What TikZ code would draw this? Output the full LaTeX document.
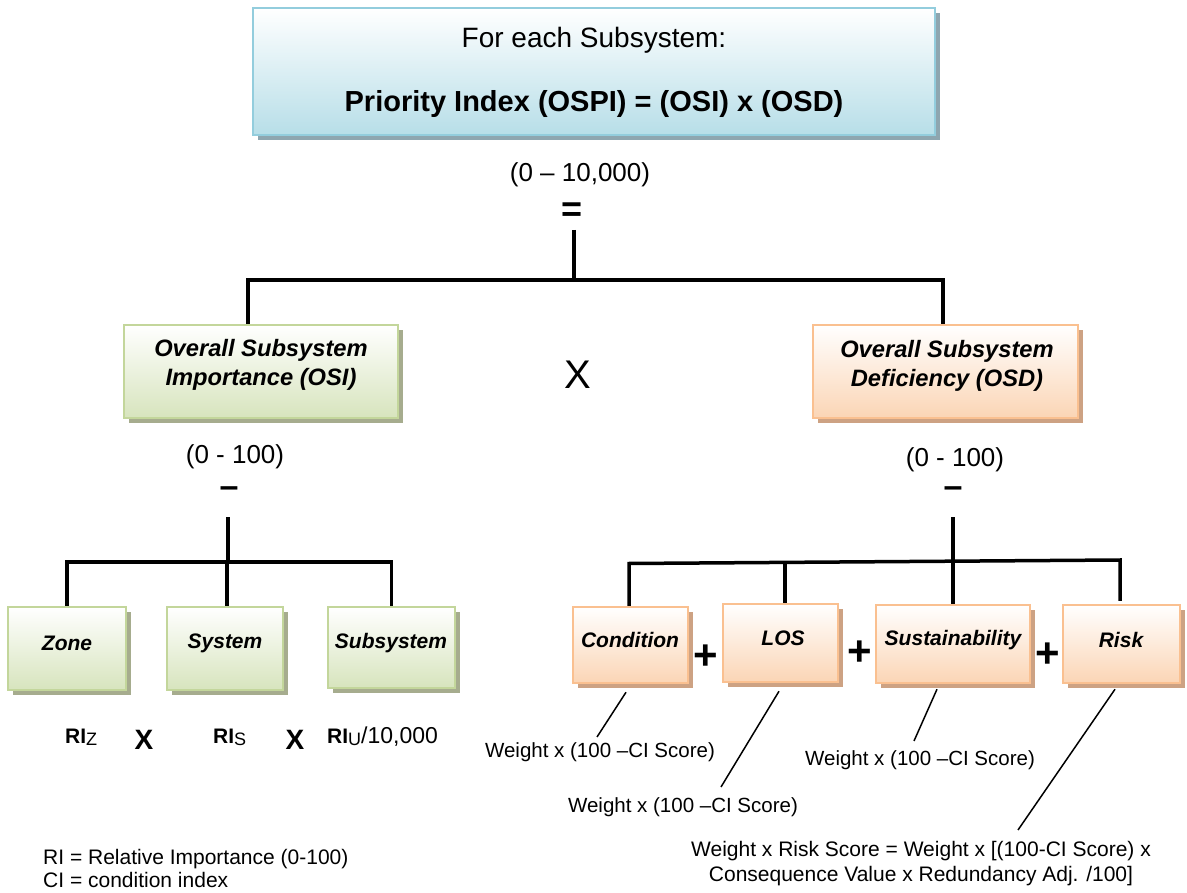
\documentclass[tikz,border=0pt]{standalone}
\usepackage{fontspec}
\setmainfont{Liberation Sans}
\usetikzlibrary{shadows}

\definecolor{blueline}{HTML}{93CDDD}
\definecolor{bluefill}{HTML}{B7DEE8}
\definecolor{blueshadow}{HTML}{8EA6B0}
\definecolor{greenline}{HTML}{C3D69B}
\definecolor{greenfill}{HTML}{D7E4BD}
\definecolor{greenshadow}{HTML}{A6AC8E}
\definecolor{orangeline}{HTML}{FAC090}
\definecolor{orangefill}{HTML}{FBD5B5}
\definecolor{orangeshadow}{HTML}{CDA283}

\newcommand{\fs}[1]{\fontsize{#1}{#1}\selectfont}

\begin{document}
\begin{tikzpicture}[x=1pt,y=-1pt,
  box/.style={rectangle, line width=2.5pt, inner sep=0pt, top color=white},
  bluebox/.style={box, draw=blueline, bottom color=bluefill,
    drop shadow={shadow xshift=5pt, shadow yshift=-5pt, fill=blueshadow, opacity=1}},
  greenbox/.style={box, draw=greenline, bottom color=greenfill,
    drop shadow={shadow xshift=5pt, shadow yshift=-5pt, fill=greenshadow, opacity=1}},
  orangebox/.style={box, draw=orangeline, bottom color=orangefill,
    drop shadow={shadow xshift=5pt, shadow yshift=-5pt, fill=orangeshadow, opacity=1}},
  bigtitle/.style={font=\fontsize{23.7}{29}\selectfont\bfseries\itshape, align=center, inner sep=0pt},
  boxtitle/.style={font=\fs{21}\bfseries\itshape, inner sep=0pt},
  rangelabel/.style={font=\fs{26}, inner sep=0pt},
  dashsign/.style={font=\fontsize{34}{34}\selectfont\bfseries, inner sep=0pt,
    text height=8pt, text depth=0pt},
  plussign/.style={font=\fontsize{42}{42}\selectfont\bfseries, inner sep=0pt},
  weight/.style={font=\fs{20.5}, inner sep=0pt},
  conn/.style={line width=3.5pt},
  lead/.style={line width=1.5pt},
]
\useasboundingbox (0,0) rectangle (1187,893);

% ---- top formula box ----
\node[bluebox, minimum width=682pt, minimum height=127pt] (top) at (594,71.5) {};
\node[font=\fs{28}, inner sep=0pt] (top1) at (594,40) {For each Subsystem:};
\node[font=\fs{29}\bfseries, inner sep=0pt] (top2) at (594,104) {Priority Index (OSPI) = (OSI) x (OSD)};

\node[rangelabel] (range0) at (580,175) {(0 -- 10,000)};
\node[font=\fontsize{36}{36}\selectfont\bfseries, inner sep=0pt] (eq) at (572,212) {=};

% ---- second level ----
\node[greenbox, minimum width=274pt, minimum height=93pt] (osi) at (261,371.5) {};
\node[bigtitle] (osi-t) at (261,365) {Overall Subsystem\\Importance (OSI)};
\node[orangebox, minimum width=265pt, minimum height=93pt] (osd) at (945.5,371.5) {};
\node[bigtitle] (osd-t) at (947,366) {Overall Subsystem\\Deficiency (OSD)};
\node[font=\fs{40}, inner sep=0pt] (times) at (578,375) {X};

\coordinate (j0) at (574,230);
\coordinate (j1) at (574,280);
\draw[conn] (j0) -- (j1);
\draw[conn] ([xshift=-13pt]osi.north) |- (j1) -| ([xshift=-2.5pt]osd.north);

% ---- importance branch ----
\node[rangelabel] (rangeL) at (235,457) {(0 - 100)};
\node[dashsign] (dashL) at (229,493) {--};

\node[greenbox, minimum width=118pt, minimum height=83pt] (zone) at (67,648.5) {};
\node[greenbox, minimum width=116pt, minimum height=83pt] (sys) at (225,648.5) {};
\node[greenbox, minimum width=127pt, minimum height=81pt] (subs) at (391.5,647.5) {};
\node[boxtitle] (zone-t) at (67,643) {Zone};
\node[boxtitle] (sys-t) at (225,643) {System};
\node[boxtitle] (subs-t) at (391,643) {Subsystem};

\coordinate (l0) at (228,517);
\coordinate (l1) at (228,562);
\draw[conn] (l0) -- (l1);
\draw[conn] (zone.north) |- (l1) -| (subs.north);
\draw[conn] ([xshift=2pt]sys.north) -- ([xshift=2pt]sys.north |- l1);

\node[anchor=base west, inner sep=0pt] (riz) at (65,743)
  {\fs{21}\bfseries RI\raisebox{-2pt}{\fs{18}\mdseries Z}};
\node[font=\fs{28}\bfseries, inner sep=0pt] (x1) at (144,740) {X};
\node[anchor=base west, inner sep=0pt] (ris) at (213,743)
  {\fs{21}\bfseries RI\raisebox{-2pt}{\fs{18}\mdseries S}};
\node[font=\fs{28}\bfseries, inner sep=0pt] (x2) at (295,740) {X};
\node[anchor=base west, inner sep=0pt] (riu) at (327,743)
  {\fs{21}\bfseries RI\raisebox{-2pt}{\fs{18}\mdseries U}\fs{23}\mdseries/10,000};

% ---- deficiency branch ----
\node[rangelabel] (rangeR) at (955,460) {(0 - 100)};
\node[dashsign] (dashR) at (953,493) {--};

\node[orangebox, minimum width=115pt, minimum height=76pt] (cond) at (630.5,645) {};
\node[orangebox, minimum width=115pt, minimum height=78pt] (los) at (780.5,643) {};
\node[orangebox, minimum width=154pt, minimum height=78pt] (sust) at (953,644) {};
\node[orangebox, minimum width=117pt, minimum height=78pt] (risk) at (1121.5,644) {};
\node[boxtitle] (cond-t) at (630,640) {Condition};
\node[boxtitle] (los-t) at (783,638) {LOS};
\node[boxtitle] (sust-t) at (953,640) {Sustainability};
\node[boxtitle] (risk-t) at (1121,640) {Risk};

\node[plussign] (p1) at (706,657) {+};
\node[plussign] (p2) at (860,653) {+};
\node[plussign] (p3) at (1048,655) {+};

% the bar joining the four deficiency terms runs very slightly uphill
\coordinate (r0) at (953,517);
\coordinate (r1) at (953,561.5);
\coordinate (rl) at (629,563.5);
\coordinate (rr) at (1120,560);
\draw[conn] (r0) -- (r1);
\draw[conn] ([xshift=-1.5pt]cond.north) -- (rl) -- (rr) -- ([yshift=3pt]risk.north -| rr);
\draw[conn] ([xshift=4.5pt]los.north) -- ([xshift=4.5pt]los.north |- r1);
\draw[conn] (sust.north) -- (sust.north |- r1);

% ---- weighting notes ----
\node[weight] (w1) at (600,752) {Weight x (100 --CI Score)};
\node[weight] (w2) at (683,807) {Weight x (100 --CI Score)};
\node[weight] (w3) at (920,760) {Weight x (100 --CI Score)};
\node[font=\fontsize{21}{25}\selectfont, align=center, inner sep=0pt] (wr) at (921,864)
  {Weight x Risk Score = Weight x [(100-CI Score) x\\Consequence Value x Redundancy Adj. /100]};

\coordinate (e1) at (597,737);
\coordinate (e2) at (721,787);
\coordinate (e3) at (914,741);
\coordinate (e4) at (1018,830);
\draw[lead] ([shift={(-4.5pt,-8pt)}]cond.south) -- (e1);
\draw[lead] ([shift={(-1.5pt,-8pt)}]los.south) -- (e2);
\draw[lead] ([shift={(-16pt,-5pt)}]sust.south) -- (e3);
\draw[lead] ([shift={(-6.5pt,-5pt)}]risk.south) -- (e4);

% ---- legend ----
\node[font=\fontsize{21}{23}\selectfont, align=left, anchor=west, inner sep=0pt] (legend) at (43,868)
  {RI = Relative Importance (0-100)\\CI = condition index};
\end{tikzpicture}
\end{document}
